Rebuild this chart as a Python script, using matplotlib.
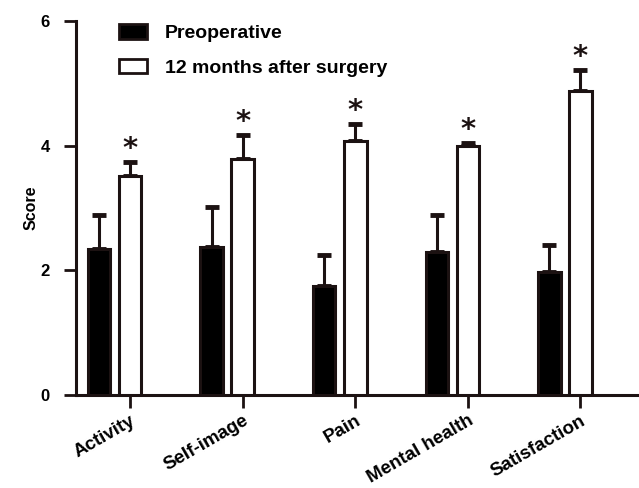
import matplotlib
matplotlib.use("Agg")
import matplotlib.pyplot as plt
from matplotlib.patches import Patch
from matplotlib.transforms import ScaledTranslation
import numpy as np

plt.rcParams['font.family'] = ['Liberation Sans', 'DejaVu Sans']

categories = ['Activity', 'Self-image', 'Pain', 'Mental health', 'Satisfaction']
preop = [2.35, 2.37, 1.75, 2.29, 1.98]
preop_err = [0.53, 0.64, 0.50, 0.59, 0.43]
post = [3.52, 3.79, 4.07, 4.00, 4.88]
post_err = [0.22, 0.38, 0.28, 0.05, 0.34]

dark = '#1c1212'
x = np.arange(len(categories))
w = 0.2
off = 0.276

fig = plt.figure(figsize=(6.39, 4.88), dpi=100)
ax = fig.add_axes([0.119, 0.1906, 0.881, 0.7664])

ax.bar(x - off, preop, w, color='black', edgecolor=dark, linewidth=2.2, zorder=3)
ax.bar(x, post, w, color='white', edgecolor=dark, linewidth=2.2, zorder=3)
ax.errorbar(x - off, preop, yerr=[np.zeros(5), preop_err], fmt='none', ecolor=dark,
            elinewidth=2.2, capsize=5, capthick=3.5, zorder=2)
ax.errorbar(x, post, yerr=[np.zeros(5), post_err], fmt='none', ecolor=dark,
            elinewidth=2.2, capsize=5, capthick=3.5, zorder=2)

# significance stars
for xi, v, e in zip(x, post, post_err):
    ax.text(xi, v + e + 0.08, '*', ha='center', va='baseline', fontsize=21,
            fontweight='bold', color=dark, family='DejaVu Sans')

ax.set_xlim(-0.48, 4.52)
ax.set_ylim(0, 6)
ax.set_yticks([0, 2, 4, 6])
ax.set_xticks(x)
ax.set_xticklabels(categories, rotation=30, ha='right', rotation_mode='anchor',
                   fontsize=13.5, fontweight='bold')
shift = ScaledTranslation(11/72, -3/72, fig.dpi_scale_trans)
for lbl in ax.get_xticklabels():
    lbl.set_transform(lbl.get_transform() + shift)
for lbl in ax.get_yticklabels():
    lbl.set_fontweight('bold')
    lbl.set_fontsize(12)
ax.set_ylabel('Score', fontsize=11.5, fontweight='bold')
ax.yaxis.set_label_coords(-0.066, 0.5)

for s in ['top', 'right']:
    ax.spines[s].set_visible(False)
for s in ['left', 'bottom']:
    ax.spines[s].set_linewidth(2.2)
    ax.spines[s].set_color(dark)
ax.tick_params(axis='both', direction='out', length=9, width=2, color=dark)
ax.tick_params(axis='y', pad=10)

handles = [Patch(facecolor='black', edgecolor=dark, linewidth=2),
           Patch(facecolor='white', edgecolor=dark, linewidth=2)]
ax.legend(handles, ['Preoperative', '12 months after surgery'], loc='upper left',
          bbox_to_anchor=(0.045, 1.038), frameon=False,
          prop={'weight': 'bold', 'size': 14}, handlelength=1.45, handleheight=0.77,
          handletextpad=0.9, labelspacing=0.85)

fig.savefig('out.png', dpi=100)
